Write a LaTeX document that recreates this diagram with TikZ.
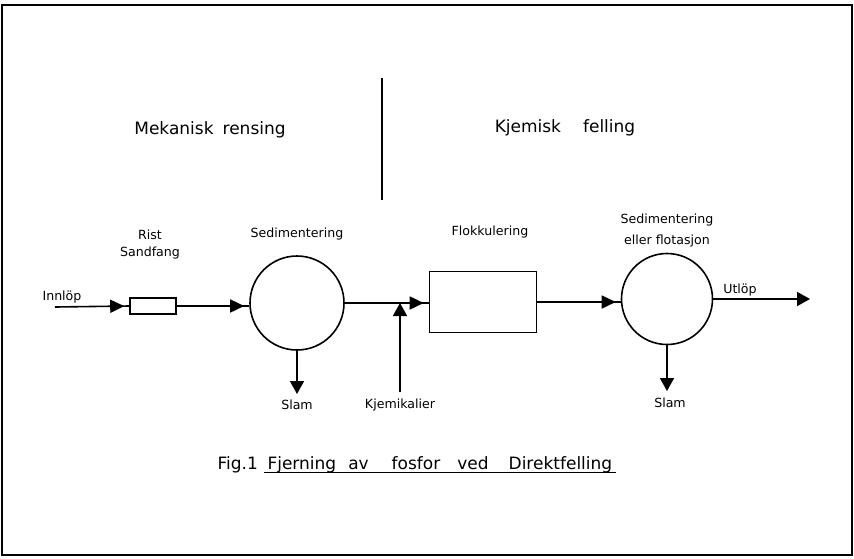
\documentclass[tikz,border=0pt]{standalone}
\usepackage{fontspec}
\setmainfont{DejaVu Sans}
\usetikzlibrary{arrows.meta,decorations.markings,calc}
\tikzset{
  unit/.style={draw, line width=1.6pt, inner sep=0pt},
  tank/.style={unit, circle},
  lbl/.style={font=\fontsize{12.6}{14}\selectfont, align=center},
  head/.style={font=\fontsize{17}{20}\selectfont},
  pipe/.style={line width=1.6pt},
  feed/.style={pipe, postaction={decorate},
    decoration={markings, mark=at position -5pt with {\arrow{Triangle[length=14pt,width=13pt]}}}},
  outl/.style={pipe, -{Triangle[length=13pt,width=14pt]}},
}
\begin{document}
\begin{tikzpicture}[x=1pt,y=-1pt]
  \useasboundingbox (0,0) rectangle (854,558);
  % frame and divider
  \draw[line width=2pt] (2,5) rectangle (852,555);
  \draw[line width=1.2pt] (382,78) -- (382,200);
  \node[head] (mek) at (210,130) {Mekanisk\hspace{9pt}rensing};
  \node[head] (kje) at (565,128) {Kjemisk\hspace{22pt}felling};
  % units
  \node[unit, minimum width=46pt, minimum height=16pt] (rist) at (153,306) {};
  \node[tank, minimum size=94pt] (sed1) at (297,303) {};
  \node[unit, minimum width=107pt, minimum height=61pt] (flokk) at (483,302) {};
  \node[tank, minimum size=91pt] (sed2) at (667,299) {};
  \coordinate (inn) at (55,307);
  \coordinate (ut) at (810,299);
  \coordinate (slam1) at (297,394);
  \coordinate (slam2) at (667,391);
  \coordinate (kjem) at (400,392);
  % flows
  \draw[feed] (inn) -- (rist.west);
  \draw[feed] (rist.east) -- (rist.east -| sed1.west);
  \draw[feed] (sed1.east) -- (sed1.east -| flokk.west);
  \draw[outl] (kjem) -- (kjem |- sed1.east);
  \draw[feed] (flokk.east) -- (flokk.east -| sed2.west);
  \draw[outl] (sed2.east) -- (ut);
  \draw[outl] (sed1.south) -- (slam1);
  \draw[outl] (sed2.south) -- (slam2);
  % labels
  \node[lbl] (innl) at (62,297) {Innlöp};
  \node[lbl] (ristl) at (150,245) {Rist\\[3pt]Sandfang};
  \node[lbl] (sed1l) at (297,234) {Sedimentering};
  \node[lbl] (flokkl) at (490,232) {Flokkulering};
  \node[lbl] (sed2l) at (667,231) {Sedimentering\\[7pt]eller flotasjon};
  \node[lbl] (slam1l) at (297,405) {Slam};
  \node[lbl] (kjeml) at (400,405) {Kjemikalier};
  \node[lbl] (utl) at (740,290) {Utlöp};
  \node[lbl] (slam2l) at (670,403) {Slam};
  % caption
  \node[head, anchor=base west] (fig) at (214,469) {Fig.1};
  \node[head, anchor=base west] (tit) at (264,469)
    {Fjerning\hspace{12pt}av\hspace{23pt}fosfor\hspace{17pt}ved\hspace{20pt}Direktfelling};
  \draw[line width=1pt] ([yshift=-3pt]tit.base west) -- ([yshift=-3pt]tit.base east);
\end{tikzpicture}
\end{document}
